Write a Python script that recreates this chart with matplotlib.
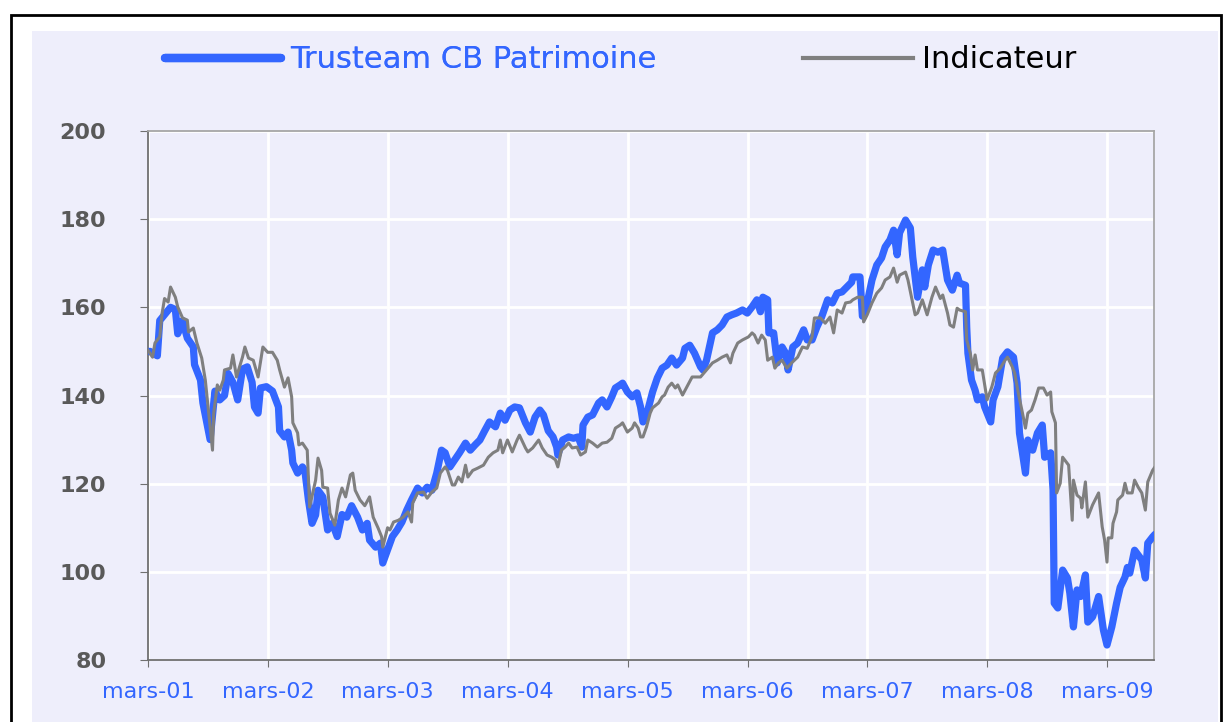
import matplotlib
matplotlib.use('Agg')
import matplotlib.pyplot as plt
from matplotlib.patches import Rectangle
from matplotlib.lines import Line2D

# axis ticks: first of march each year (decimal years)
tick_pos = [2001.162 + i for i in range(9)]
tick_labels = ['mars-01', 'mars-02', 'mars-03', 'mars-04', 'mars-05',
               'mars-06', 'mars-07', 'mars-08', 'mars-09']

# Trusteam CB Patrimoine
fund_t = [2001.16, 2001.18, 2001.24, 2001.26, 2001.29, 2001.35, 2001.39, 2001.41, 2001.45, 2001.49,
          2001.54, 2001.55, 2001.60, 2001.62, 2001.68, 2001.72, 2001.76, 2001.80, 2001.83, 2001.87,
          2001.91, 2001.95, 2001.99, 2002.03, 2002.05, 2002.08, 2002.10, 2002.15, 2002.20, 2002.25,
          2002.26, 2002.30, 2002.33, 2002.36, 2002.37, 2002.41, 2002.45, 2002.47, 2002.50, 2002.53,
          2002.56, 2002.58, 2002.62, 2002.66, 2002.70, 2002.74, 2002.78, 2002.82, 2002.86, 2002.91,
          2002.95, 2002.99, 2003.01, 2003.06, 2003.10, 2003.12, 2003.16, 2003.20, 2003.24, 2003.28,
          2003.32, 2003.36, 2003.41, 2003.45, 2003.49, 2003.53, 2003.57, 2003.61, 2003.64, 2003.68,
          2003.72, 2003.76, 2003.81, 2003.85, 2003.89, 2003.93, 2003.97, 2004.01, 2004.06, 2004.10,
          2004.14, 2004.18, 2004.22, 2004.26, 2004.31, 2004.35, 2004.39, 2004.43, 2004.46, 2004.50,
          2004.54, 2004.57, 2004.58, 2004.62, 2004.67, 2004.71, 2004.75, 2004.78, 2004.79, 2004.83,
          2004.87, 2004.92, 2004.95, 2004.99, 2005.03, 2005.06, 2005.10, 2005.12, 2005.16, 2005.20,
          2005.24, 2005.27, 2005.29, 2005.32, 2005.37, 2005.41, 2005.45, 2005.49, 2005.53, 2005.57,
          2005.62, 2005.64, 2005.68, 2005.72, 2005.77, 2005.79, 2005.82, 2005.87, 2005.91, 2005.95,
          2005.99, 2006.03, 2006.07, 2006.12, 2006.16, 2006.20, 2006.24, 2006.27, 2006.29, 2006.33,
          2006.34, 2006.38, 2006.41, 2006.45, 2006.48, 2006.50, 2006.54, 2006.58, 2006.63, 2006.66,
          2006.70, 2006.74, 2006.78, 2006.83, 2006.87, 2006.91, 2006.95, 2006.99, 2007.03, 2007.04,
          2007.10, 2007.12, 2007.13, 2007.16, 2007.20, 2007.24, 2007.28, 2007.31, 2007.35, 2007.38,
          2007.41, 2007.43, 2007.48, 2007.52, 2007.54, 2007.58, 2007.62, 2007.64, 2007.67, 2007.71,
          2007.75, 2007.79, 2007.83, 2007.87, 2007.91, 2007.93, 2007.98, 2007.99, 2008.00, 2008.03,
          2008.06, 2008.08, 2008.12, 2008.14, 2008.19, 2008.21, 2008.25, 2008.29, 2008.33, 2008.38,
          2008.41, 2008.43, 2008.48, 2008.50, 2008.54, 2008.58, 2008.62, 2008.64, 2008.69, 2008.71,
          2008.72, 2008.75, 2008.79, 2008.83, 2008.85, 2008.88, 2008.91, 2008.94, 2008.98, 2009.00,
          2009.04, 2009.09, 2009.13, 2009.16, 2009.20, 2009.24, 2009.27, 2009.31, 2009.33, 2009.35,
          2009.39, 2009.42, 2009.45, 2009.48, 2009.50, 2009.54, 2009.56]
fund_v = [150, 150, 149, 157, 158, 160, 159.5, 154, 157, 153,
          151, 147, 143.5, 138.3, 130, 141, 139, 140, 145, 143,
          139, 146, 146.5, 143, 137.4, 136, 141.7, 142, 141, 137.4,
          132, 130.6, 131.7, 127.6, 124.7, 122.4, 123.8, 123, 116.3, 111,
          112.9, 118.5, 117, 109.5, 111, 108, 113, 112.4, 115, 112.4,
          109.5, 111, 107.2, 105.6, 106.5, 102, 105, 108, 109.5, 111.3,
          114, 116.3, 119, 117.9, 119.2, 118.5, 122.4, 127.6, 127, 123.8,
          125.4, 127, 129.2, 127.6, 128.8, 129.9, 132, 134, 132.9, 136,
          134.4, 136.7, 137.4, 137.2, 133.8, 131.7, 135.1, 136.7, 135.6, 132,
          130.6, 128.3, 126.5, 129.9, 130.6, 130.3, 130.6, 128.3, 133.3, 135.1,
          135.6, 138.3, 139, 137.4, 139.7, 141.7, 142.4, 142.8, 140.8, 139.7,
          140.6, 137.4, 134, 135.6, 140.8, 144, 146.2, 146.9, 148.5, 146.9,
          148.5, 150.7, 151.4, 149.6, 146.5, 145.8, 148, 154.2, 154.9, 156,
          157.8, 158.3, 158.7, 159.4, 158.7, 160.1, 161.7, 159, 162.3, 161.7,
          154.2, 154.2, 147.4, 151, 149.6, 145.8, 151, 151.9, 154.9, 152.6,
          152.6, 155.5, 157.8, 161.7, 161, 163.2, 163.5, 164.6, 165.7, 166.9,
          166.9, 158, 158.7, 161, 166.2, 169.6, 171.2, 173.7, 175.3, 177.5,
          171.9, 176.9, 179.8, 178, 171.4, 162.3, 168.5, 164.6, 169.6, 173,
          172.5, 173, 166.2, 163.9, 167.3, 165.5, 165, 155.5, 149.6, 143.5,
          141.2, 139, 139.7, 137.4, 134, 139, 142, 148.5, 149.9, 148.7,
          142.8, 131.5, 122.4, 129.9, 127.6, 131.5, 133.3, 126, 127, 118.6,
          92.9, 91.8, 100.4, 98.6, 95.2, 87.5, 95.9, 94.4, 99.3, 88.6,
          89.8, 94.4, 86.8, 83.4, 87.5, 92.9, 96.5, 98.8, 101, 99.7,
          104.9, 103.8, 102.7, 98.6, 106.5, 107.9, 108.5]

# Indicateur
ind_t = [2001.16, 2001.20, 2001.22, 2001.26, 2001.28, 2001.30, 2001.33, 2001.35, 2001.39, 2001.41,
         2001.45, 2001.49, 2001.50, 2001.54, 2001.57, 2001.61, 2001.64, 2001.70, 2001.71, 2001.74,
         2001.76, 2001.79, 2001.80, 2001.85, 2001.87, 2001.90, 2001.95, 2001.97, 2002.00, 2002.04,
         2002.08, 2002.12, 2002.16, 2002.20, 2002.24, 2002.26, 2002.30, 2002.33, 2002.36, 2002.37,
         2002.41, 2002.42, 2002.45, 2002.49, 2002.51, 2002.56, 2002.58, 2002.61, 2002.62, 2002.66,
         2002.68, 2002.72, 2002.75, 2002.78, 2002.81, 2002.85, 2002.87, 2002.89, 2002.93, 2002.97,
         2003.01, 2003.04, 2003.08, 2003.11, 2003.12, 2003.16, 2003.18, 2003.21, 2003.25, 2003.29,
         2003.33, 2003.36, 2003.37, 2003.41, 2003.46, 2003.49, 2003.53, 2003.57, 2003.60, 2003.64,
         2003.66, 2003.70, 2003.72, 2003.75, 2003.78, 2003.81, 2003.83, 2003.87, 2003.91, 2003.96,
         2004.00, 2004.04, 2004.08, 2004.10, 2004.12, 2004.16, 2004.20, 2004.24, 2004.26, 2004.31,
         2004.33, 2004.37, 2004.42, 2004.45, 2004.49, 2004.53, 2004.56, 2004.58, 2004.61, 2004.64,
         2004.67, 2004.70, 2004.74, 2004.77, 2004.81, 2004.83, 2004.87, 2004.91, 2004.95, 2004.99,
         2005.03, 2005.06, 2005.10, 2005.12, 2005.16, 2005.20, 2005.22, 2005.25, 2005.27, 2005.29,
         2005.32, 2005.35, 2005.37, 2005.42, 2005.45, 2005.47, 2005.50, 2005.53, 2005.56, 2005.58,
         2005.62, 2005.70, 2005.77, 2005.82, 2005.87, 2005.91, 2005.95, 2005.99, 2006.02, 2006.04,
         2006.08, 2006.12, 2006.17, 2006.20, 2006.22, 2006.25, 2006.28, 2006.31, 2006.33, 2006.37,
         2006.39, 2006.42, 2006.45, 2006.49, 2006.53, 2006.58, 2006.62, 2006.66, 2006.70, 2006.72,
         2006.77, 2006.81, 2006.85, 2006.88, 2006.91, 2006.95, 2006.98, 2007.02, 2007.04, 2007.08,
         2007.12, 2007.13, 2007.16, 2007.20, 2007.24, 2007.28, 2007.31, 2007.35, 2007.38, 2007.41,
         2007.43, 2007.48, 2007.50, 2007.53, 2007.56, 2007.58, 2007.62, 2007.66, 2007.70, 2007.73,
         2007.77, 2007.79, 2007.83, 2007.85, 2007.88, 2007.91, 2007.93, 2007.98, 2007.99, 2008.02,
         2008.04, 2008.06, 2008.08, 2008.12, 2008.16, 2008.20, 2008.23, 2008.27, 2008.31, 2008.33,
         2008.37, 2008.39, 2008.42, 2008.45, 2008.48, 2008.50, 2008.53, 2008.56, 2008.59, 2008.63,
         2008.66, 2008.69, 2008.70, 2008.73, 2008.74, 2008.77, 2008.79, 2008.84, 2008.87, 2008.88,
         2008.91, 2008.94, 2008.95, 2008.98, 2009.00, 2009.04, 2009.09, 2009.12, 2009.14, 2009.16,
         2009.17, 2009.20, 2009.21, 2009.24, 2009.25, 2009.29, 2009.31, 2009.33, 2009.37, 2009.39,
         2009.42, 2009.45, 2009.48, 2009.50, 2009.54, 2009.56]
ind_v = [150.3, 148.7, 151.9, 153.3, 158.7, 162, 161.2, 164.6, 162.3, 160.1,
         157.6, 157.1, 154.4, 155.3, 151.9, 148.5, 143.5, 127.6, 136, 142.4,
         141.2, 143.5, 145.8, 146.2, 149.2, 144.2, 148.7, 151, 148.5, 148,
         144.2, 151, 149.8, 149.8, 148, 145.8, 141.9, 144, 139.7, 133.8,
         131.5, 128.8, 129.2, 127.6, 114.7, 120.8, 125.8, 123, 119.2, 119,
         113.3, 110.6, 116.3, 119, 117, 122, 122.4, 118.5, 116.3, 115,
         117, 112.4, 110, 108, 105.6, 110, 109.5, 111.3, 111.7, 112.4,
         113.6, 111.3, 115.6, 117.9, 118.1, 116.7, 118.1, 119, 122.4, 123.8,
         123, 119.7, 119.7, 121.5, 120.4, 124.2, 121.5, 123, 123.5, 124.2,
         126, 127, 127.6, 129.9, 127, 129.9, 127.2, 129.9, 131, 128.1,
         127.2, 128.1, 129.9, 128.1, 126.5, 126, 125.4, 123.8, 127.6, 128.3,
         129.2, 128.1, 128.3, 126.5, 127.2, 129.9, 129.2, 128.3, 129.2, 129.4,
         130.3, 132.6, 133.3, 133.8, 131.7, 132.6, 133.8, 132.6, 130.6, 130.6,
         132.9, 136, 137.2, 138.3, 139.7, 140.1, 141.9, 142.8, 141.7, 142.4,
         140.1, 144.2, 144.2, 145.8, 147.4, 148, 148.7, 149.2, 147.4, 149.6,
         151.9, 152.6, 153.3, 154.2, 153.7, 151.9, 153.7, 152.6, 148, 148.7,
         146.2, 147.4, 148, 146.2, 147.4, 148.7, 151, 150.7, 153.3, 157.6,
         157.6, 156.4, 157.8, 154.2, 159.4, 158.7, 161, 161.2, 161.7, 162.3,
         162.3, 156.7, 158.3, 161, 163.2, 164.4, 166.2, 166.9, 168.9, 165.7,
         167.3, 168, 166.2, 162.3, 158.3, 158.7, 161.7, 158.3, 162.3, 164.6,
         162, 162.8, 158.7, 156, 155.5, 159.8, 159.4, 159, 152.6, 149.6,
         145.8, 149.2, 145.8, 145.8, 139, 142, 145.1, 146.2, 148, 148.7,
         146.5, 145.1, 140.6, 136.7, 132.6, 136, 136.7, 139, 141.7, 141.7,
         140.1, 140.8, 136.3, 133.8, 117.9, 120.1, 126, 124.2, 111.7, 120.8,
         117.4, 116.7, 114.5, 120.4, 112.4, 115.2, 117.9, 110.2, 107.2, 102.2,
         107.7, 107.7, 111, 113.6, 116.3, 117.4, 120.1, 117.9, 117.9, 120.8,
         119.2, 117.9, 114, 120.4, 123, 123.8]

blue = '#3366FF'
grey = '#7F7F7F'
panel = '#EEEEFB'

W, H = 1223, 722
fig = plt.figure(figsize=(W / 100, H / 100), dpi=100)
fig.patches.append(Rectangle((32 / W, 0), (1218 - 32) / W, 1 - 31 / H,
                             transform=fig.transFigure, facecolor=panel,
                             edgecolor='none', zorder=-10))
fig.patches.append(Rectangle((11 / W, -0.02), (1221 - 11) / W, 1.02 - 15 / H,
                             transform=fig.transFigure, fill=False,
                             edgecolor='black', lw=2, zorder=-5))

ax = fig.add_axes([148 / W, 1 - 660 / H, (1154 - 148) / W, (660 - 131) / H])
ax.set_facecolor(panel)
ax.plot(fund_t, fund_v, color=blue, lw=5.2, solid_joinstyle='round',
        solid_capstyle='round', zorder=3)
ax.plot(ind_t, ind_v, color=grey, lw=2.2, zorder=4)

ax.set_xlim(2001.162, 2009.552)
ax.set_ylim(80, 200)
ax.set_yticks(range(80, 201, 20))
ax.set_xticks(tick_pos, tick_labels)
ax.grid(color='white', lw=2)
ax.set_axisbelow(True)

for s in ['left', 'bottom']:
    ax.spines[s].set_color('#707070')
    ax.spines[s].set_linewidth(1.3)
for s in ['top', 'right']:
    ax.spines[s].set_color('#A6A6A6')
    ax.spines[s].set_linewidth(1.3)

ax.tick_params(axis='y', length=6, color='#707070', pad=24,
               labelsize=16, labelcolor='#595959')
ax.tick_params(axis='x', length=5, color='#707070', pad=11,
               labelsize=16, labelcolor=blue)
for t in ax.get_yticklabels():
    t.set_fontweight('bold')

# two legend entries placed where the reference puts them
leg1 = fig.legend([Line2D([], [], color=blue, lw=6, solid_capstyle='round')],
                  ['Trusteam CB Patrimoine'], loc='center left',
                  bbox_to_anchor=(165 / W, 1 - 60 / H), frameon=False,
                  fontsize=22, handlelength=3.8, handletextpad=0.3,
                  borderpad=0, borderaxespad=0)
leg1.get_texts()[0].set_color(blue)
leg2 = fig.legend([Line2D([], [], color=grey, lw=3)],
                  ['Indicateur'], loc='center left',
                  bbox_to_anchor=(803 / W, 1 - 60 / H), frameon=False,
                  fontsize=22, handlelength=3.6, handletextpad=0.3,
                  borderpad=0, borderaxespad=0)
leg2.get_texts()[0].set_color('black')
fig.add_artist(leg1)

fig.savefig('out.png', dpi=100)
